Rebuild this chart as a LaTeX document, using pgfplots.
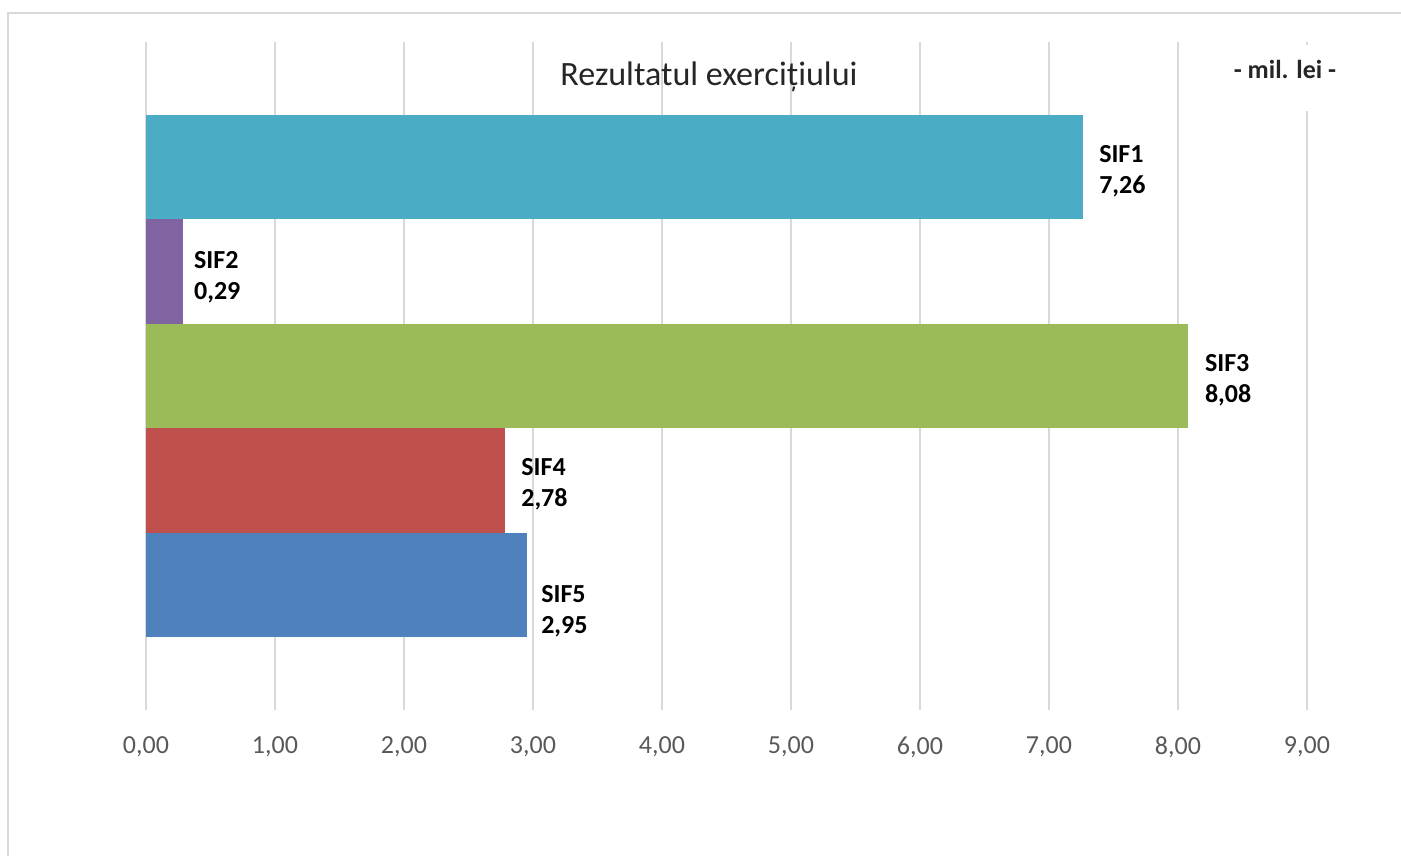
\documentclass[border=0pt]{standalone}
\usepackage{pgfplots}
\pgfplotsset{compat=1.18}
\usepackage{fontspec}
\setmainfont{Carlito}

\definecolor{sifA}{HTML}{4BACC6}
\definecolor{sifB}{HTML}{8064A2}
\definecolor{sifC}{HTML}{9BBB59}
\definecolor{sifD}{HTML}{C0504D}
\definecolor{sifE}{HTML}{4F81BD}
\definecolor{gridc}{HTML}{D9D9D9}
\definecolor{tickc}{HTML}{595959}
\definecolor{titlec}{HTML}{262626}

\pgfplotsset{
  sif label/.style={
    nodes near coords={#1\\\pgfmathprintnumber{\pgfplotspointmeta}}
  }
}

\begin{document}
\begin{tikzpicture}[x=1cm,y=1cm]
% page = 1401 x 856 px, 1 px = 0.01 cm
\path[use as bounding box, fill=white] (0,0) rectangle (14.01,8.56);
\draw[line width=0.6pt, color=gridc] (0.08,0) -- (0.08,8.43) -- (14.01,8.43);

\begin{axis}[
  at={(1.46cm,1.46cm)}, anchor=south west,
  scale only axis, width=11.61cm, height=6.68cm,
  xmin=0, xmax=9,
  ymin=-0.196, ymax=6.196, y dir=reverse,
  xbar, bar width=1,
  every axis plot/.append style={bar shift=0pt, draw=none},
  axis line style={draw=none},
  xtick={0,1,...,9}, ytick=\empty,
  major tick length=0pt,
  xmajorgrids, grid style={line width=0.6pt, color=gridc},
  /pgf/number format/.cd, use comma, fixed, fixed zerofill, precision=2,
    assume math mode=true,
  /pgfplots/.cd,
  xticklabel style={font=\fontsize{7.4}{8.5}\selectfont, text=tickc, yshift=-0.14cm},
  point meta=x,
  nodes near coords style={anchor=west, align=left, inner sep=0pt,
    xshift=0.16cm, yshift=-0.04cm, text=black,
    font=\bfseries\fontsize{7.4}{8.8}\selectfont},
]
\addplot[fill=sifA, sif label=SIF1] coordinates {(7.26,1)};
% shifts below add to the axis-wide ones
\addplot[fill=sifB, sif label=SIF2,
  nodes near coords style={xshift=-0.06cm, yshift=-0.02cm}] coordinates {(0.29,2)};
\addplot[fill=sifC, sif label=SIF3] coordinates {(8.08,3)};
\addplot[fill=sifD, sif label=SIF4] coordinates {(2.78,4)};
\addplot[fill=sifE, sif label=SIF5,
  nodes near coords style={xshift=-0.02cm, yshift=-0.22cm}] coordinates {(2.95,5)};
\end{axis}

\node[anchor=base, font=\fontsize{9.7}{11}\selectfont, text=titlec]
  at (7.09,7.71) {Rezultatul exercițiului};
\fill[white] (12.2,7.45) rectangle (13.5,8.11);
\node[anchor=base, font=\bfseries\fontsize{7.4}{8.8}\selectfont, text=titlec]
  at (12.85,7.78) {- mil. lei -};
\end{tikzpicture}
\end{document}
